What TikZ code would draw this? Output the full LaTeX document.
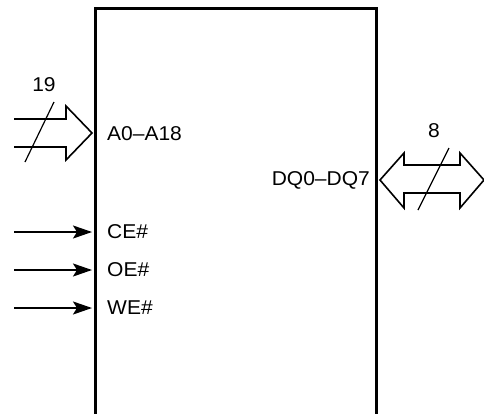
\documentclass[tikz,border=0pt]{standalone}
\usepackage{fontspec}
\setmainfont{Liberation Sans}
\usepackage{graphicx}
\usetikzlibrary{arrows.meta}
\newcommand{\wide}[1]{\scalebox{1.05}[1]{#1}}

\begin{document}
\begin{tikzpicture}[x=1pt,y=-1pt,>={Stealth[length=19pt,width=13pt,inset=4pt]}, font=\fontsize{20}{24}\selectfont, line join=miter]
	\def\xL{95} \def\xR{376} \def\yT{8} % chip outline
	\def\xS{14} \def\xT{107} % start of input lines, left of pin names
	\useasboundingbox (0,0) rectangle (484,413);
	\clip (0,0) rectangle (484,413);
	% chip
	\draw[line width=3pt] (\xL,420) -- (\xL,\yT) -- (\xR,\yT) -- (\xR,420);
	% address bus
	\draw[line width=1.6pt] (\xS,119) -- (66,119) -- (66,106) -- (92,133) -- (66,160) -- (66,147) -- (\xS,147);
	\draw[line width=1.2pt] (25,162) -- (54,102);
	\node (width A) at (44,85) {\wide{19}};
	\node[anchor=west, inner sep=0] (addr) at (\xT,134) {\wide{A0--A18}};
	% control inputs
	\foreach \y/\s in {232/CE,270/OE,308/WE} {
		\coordinate (\s in) at (\xS,\y);
		\node[anchor=west, inner sep=0] (\s) at (\xT,\y) {\wide{\s\#}};
		\draw[->, line width=2pt, shorten >=15pt] (\s in) -- (\s.west);
	}
	% data bus
	\node[anchor=east, inner sep=0] (data) at (370,180) {\wide{DQ0--DQ7}};
	\draw[line width=1.6pt] (380,180) -- (404,153) -- (404,165) -- (460,165) -- (460,153) -- (484,180) -- (460,208) -- (460,193) -- (404,193) -- (404,208) -- cycle;
	\draw[line width=1.2pt] (418,210) -- (449,148);
	\node (width DQ) at (434,131) {\wide{8}};
\end{tikzpicture}
\end{document}
